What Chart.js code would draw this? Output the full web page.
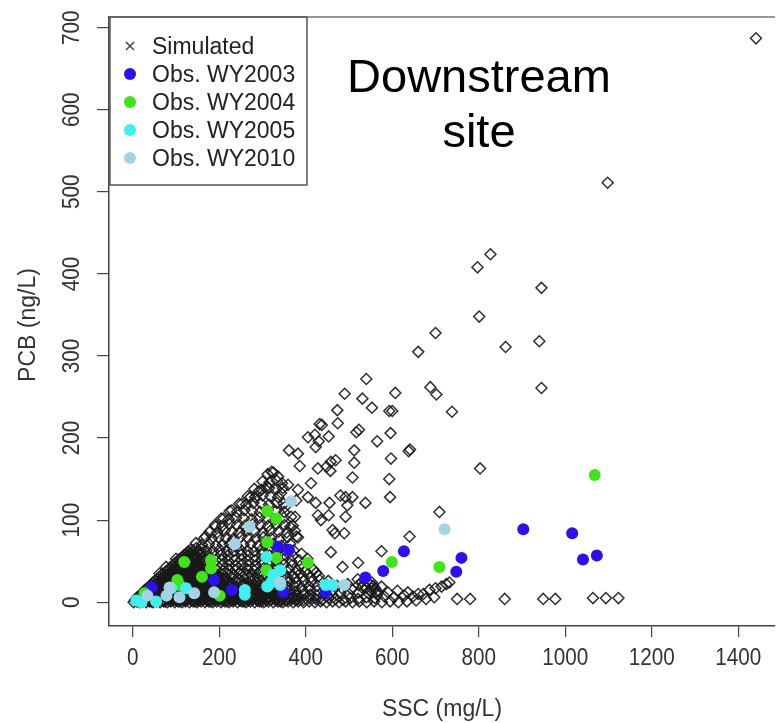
<!DOCTYPE html>
<html>
<head>
<meta charset="utf-8">
<script src="https://cdn.jsdelivr.net/npm/chart.js@4.4.1/dist/chart.umd.min.js"></script>
<style>
  html, body { margin: 0; padding: 0; background: #fff; }
  canvas { display: block; background: #fff; }
</style>
</head>
<body>
<canvas id="chart" width="782" height="723"></canvas>
<script>
// axis ticks
const X_TICKS = [0, 200, 400, 600, 800, 1000, 1200, 1400];
const Y_TICKS = [0, 100, 200, 300, 400, 500, 600, 700];

// simulated [SSC, PCB] - dense low-concentration core
const SIM_CORE = [
  [2,0],[9,1],[16,0],[24,1],[31,0],[39,1],[47,0],[55,1],[63,0],[71,1],[80,0],[88,1],[97,0],[105,1],[114,0],
  [122,1],[131,0],[140,1],[149,0],[158,1],[167,0],[176,1],[185,0],[194,1],[204,0],[213,1],[223,0],[232,1],[242,0],[252,1],
  [6,3],[14,4],[22,3],[30,5],[38,4],[46,3],[54,5],[62,4],[71,3],[79,5],[88,4],[96,3],[105,5],[113,4],[122,3],
  [131,5],[140,4],[149,3],[158,5],[167,4],[176,3],[186,5],[195,4],[205,3],[214,5],[224,4],[234,3],[244,5],[254,4],
  [14,7],[23,8],[32,7],[41,9],[50,8],[59,7],[68,9],[77,8],[87,7],[96,9],[106,8],[115,7],[125,9],[135,8],[144,7],
  [154,9],[164,8],[174,7],[184,9],[194,8],[204,7],[215,9],[225,8],[236,7],[246,9],
  [24,12],[33,13],[43,12],[52,14],[62,12],[72,13],[82,12],[92,14],[102,13],[112,12],[122,14],[132,13],[142,12],
  [152,14],[162,13],[173,12],[183,14],[194,13],[204,12],[215,14],[226,13],[237,12],[248,14],
  [33,17],[43,16],[53,18],[63,17],[74,16],[84,18],[94,17],[105,16],[115,18],[126,17],[136,16],[147,18],[157,17],
  [168,16],[179,18],[190,17],[201,16],[212,18],[223,17],[235,16],
  [42,21],[52,22],[63,21],[74,22],[85,21],[96,22],[107,21],[118,22],[129,21],[140,22],[151,21],[162,22],[174,21],
  [185,22],[197,21],[209,22],[221,21],
  [51,26],[62,25],[73,27],[84,26],[96,25],[107,27],[118,26],[130,25],[141,27],[153,26],[165,25],[177,27],[189,26],
  [201,25],[213,27],
  [61,30],[72,31],[84,30],[95,31],[107,30],[119,31],[131,30],[143,31],[155,30],[167,31],[180,30],[192,31],[204,30],
  [71,35],[82,34],[94,36],[106,35],[118,34],[130,36],[142,35],[155,34],[167,36],[180,35],[193,34],
  [81,39],[93,40],[105,41],[117,39],[129,40],[142,41],[154,39],[167,40],[180,41],
  [91,44],[103,45],[116,46],[128,44],[141,45],[153,46],[166,44],
  [101,49],[114,50],[127,51],[139,49],[152,50],[164,51],
  [112,54],[125,55],[137,56],[150,54],[162,55],
  [123,59],[136,60],[148,61],[160,60],
  [134,64],[147,66],[158,65],
  [62,35],[77,43],[100,53],[127,61],[146,72],[169,80],[191,92],[210,102],[229,112],[252,120],[272,128],[291,135],
  [310,141],[321,159],[336,153]
];

// simulated - second layer of the core, sitting between the first
const SIM_CORE_B = [
  [5,2],[13,1],[20,2],[28,3],[35,2],[43,1],[51,2],[59,3],[67,2],[75,1],[84,2],[92,3],[101,2],[109,1],[118,2],
  [126,3],[135,2],[144,1],[153,2],[162,3],[171,2],[180,1],[189,2],[199,3],[208,2],[218,1],[227,2],[237,3],[247,2],
  [257,1],[267,2],[277,3],[288,2],[298,1],[309,2],[320,3],[331,2],[342,1],[353,2],[365,3],[377,2],
  [10,6],[18,5],[26,6],[34,7],[42,6],[50,5],[58,6],[66,7],[75,6],[83,5],[92,6],[100,7],[109,6],[117,5],[126,6],
  [135,7],[144,6],[153,5],[162,6],[171,7],[181,6],[190,5],[200,6],[209,7],[219,6],[229,5],[239,6],[249,7],[259,6],
  [269,5],[280,6],[291,7],[302,6],[313,5],[325,6],[337,7],[349,6],[361,5],[374,6],
  [19,10],[28,11],[37,10],[46,11],[55,10],[64,11],[73,10],[82,11],[92,10],[101,11],[111,10],[120,11],[130,10],
  [140,11],[149,10],[159,11],[169,10],[179,11],[189,10],[199,11],[210,10],[220,11],[231,10],[241,11],[252,10],
  [263,11],[275,10],[287,11],[299,10],[311,11],[324,10],[337,11],[350,10],[364,11],
  [28,15],[38,14],[48,15],[58,16],[68,15],[79,14],[89,15],[99,16],[110,15],[120,14],[131,15],[141,16],[152,15],
  [163,14],[174,15],[185,16],[196,15],[207,14],[218,15],[230,16],[242,15],[254,14],[266,15],[279,16],[292,15],
  [305,14],[319,15],[333,16],
  [38,19],[48,20],[58,19],[69,20],[79,19],[90,20],[101,19],[112,20],[123,19],[134,20],[145,19],[157,20],[168,19],
  [180,20],[191,19],[203,20],[215,19],[227,20],[240,19],[253,20],[266,19],[280,20],[294,19],
  [47,24],[57,23],[68,24],[79,23],[90,24],[101,23],[112,24],[124,23],[135,24],[147,23],[159,24],[171,23],[183,24],
  [195,23],[207,24],[219,23],
  [56,28],[67,29],[78,28],[90,29],[101,28],[113,29],[125,28],[137,29],[149,28],[161,29],[173,28],[186,29],[198,28],[210,29],
  [66,33],[77,32],[89,33],[100,32],[112,33],[124,32],[136,33],[148,32],[161,33],[173,32],[186,33],[198,32],
  [76,37],[88,38],[100,37],[112,38],[124,37],[136,38],[148,37],[161,38],[173,37],[186,38],
  [86,42],[98,43],[110,42],[122,43],[135,42],[148,43],[160,42],[173,43],
  [96,47],[108,48],[121,47],[133,48],[146,47],[158,48],[170,47],
  [107,52],[120,53],[132,52],[145,53],[157,52],
  [118,57],[130,58],[143,57],[155,58],
  [129,62],[141,63],[153,62]
];

// simulated - low band running out along the SSC axis
const SIM_BAND = [
  [262,0],[272,1],[282,0],[293,1],[303,0],[314,1],[325,0],[336,1],[347,0],[359,1],[371,0],[383,1],[395,0],[408,1],
  [421,0],[434,1],[448,0],[462,1],[477,0],[492,1],[508,0],[524,1],[541,0],[558,1],[576,0],[595,1],[614,0],[634,1],[655,2],
  [264,4],[275,5],[286,3],[297,5],[309,4],[320,3],[332,5],[344,4],[356,3],[369,5],[382,4],[395,3],[409,5],[423,4],
  [438,3],[453,5],[469,4],[486,3],[503,5],[521,4],[540,6],[560,5],[582,7],[604,6],[628,8],[648,7],
  [258,9],[269,8],[281,10],[292,9],[304,8],[316,10],[328,9],[341,8],[354,10],[367,9],[381,8],[395,10],[410,9],
  [426,8],[443,10],[461,9],[480,11],[500,10],[522,12],[545,11],[566,13],[590,12],[612,14],[636,12],[660,10],
  [260,13],[272,14],[284,15],[296,13],[309,14],[322,15],[335,13],[349,14],[363,15],[378,13],[393,14],[409,15],
  [426,14],[444,16],[463,15],[484,17],[506,16],[530,18],[552,17],[575,19],
  [258,18],[271,19],[284,20],[298,18],[312,19],[326,20],[341,18],[357,19],[373,20],[390,18],[408,19],[427,20],
  [449,21],[472,20],[497,22],[522,21],[548,22],[560,17],
  [548,14],[556,20],[562,12],[553,24],[530,25],[540,18],[565,9],[520,28],
  [672,10],[686,15],[700,17],[714,19],[725,22],[732,24],[678,4],[697,6],
  [750,4],[780,4],[860,4],[949,4],[977,4],[1064,5],[1094,5],[1123,5]
];

// simulated - textured middle of the cloud
const SIM_CLOUD = [
  [226,24],[238,25],[250,24],[262,23],[275,25],[288,24],[302,23],[316,25],[331,24],[346,23],[362,25],[378,24],[395,26],[413,25],[432,27],[452,26],
  [216,29],[229,30],[242,29],[255,31],[268,30],[282,29],[296,31],[311,30],[326,29],[342,31],[358,30],[375,29],[393,31],[412,30],[430,32],
  [206,34],[219,35],[232,33],[246,35],[260,34],[274,33],[289,35],[304,34],[320,33],[336,35],[352,34],[369,33],[387,35],[405,34],[424,36],
  [194,39],[208,38],[222,40],[236,39],[250,38],[265,40],[280,39],[295,38],[311,40],[327,39],[344,38],[361,40],[379,39],[398,38],[417,40],
  [180,45],[194,44],[208,46],[223,45],[238,44],[253,46],[268,45],[284,44],[300,46],[316,45],[333,44],[350,46],[368,45],[387,44],[406,46],
  [178,50],[192,51],[206,52],[221,50],[236,51],[251,52],[266,50],[282,51],[298,52],[314,50],[331,51],[348,52],[366,50],[385,51],[404,53],
  [175,57],[190,56],[205,58],[220,57],[235,56],[251,58],[267,57],[283,56],[299,58],[316,57],[333,56],[351,58],[370,57],[390,59],
  [170,63],[186,62],[201,64],[217,63],[233,62],[249,64],[265,63],[281,62],[298,64],[315,63],[333,62],[352,64],[372,63],
  [160,70],[176,71],[192,69],[208,70],[224,71],[240,69],[256,70],[273,71],[290,69],[307,70],[325,71],[344,69],[364,71],
  [165,78],[182,77],[198,79],[215,78],[232,77],[249,79],[266,78],[284,77],[302,79],[320,78],[339,77],[358,79],[378,80],
  [178,86],[195,85],[212,87],[229,86],[246,85],[264,87],[282,86],[300,85],[318,87],[337,86],[356,85],[375,87],
  [190,94],[207,93],[224,95],[241,94],[259,93],[277,95],[295,94],[313,93],[332,95],[351,94],[370,93],
  [205,102],[222,101],[239,103],[257,102],[275,101],[293,103],[311,102],[330,101],[349,103],[366,104],
  [224,111],[241,110],[258,112],[276,111],[294,110],[312,112],[331,111],[350,110],
  [246,120],[262,119],[279,121],[297,120],[315,119],[333,121],[349,120],
  [266,129],[283,128],[300,130],[318,129],[336,128],
  [281,138],[298,137],[315,139],[332,138],[347,139],
  [300,147],[316,146],[333,148],[345,145],
  [312,156],[325,158]
];

// simulated - scattered high values
const SIM_SPREAD = [
  [1441,687],[1098,511],[827,424],[797,408],[945,383],[801,348],[700,328],[862,311],[940,318],[945,261],
  [660,305],[540,272],[490,254],[531,248],[553,237],[607,255],[593,233],[600,233],[688,262],[702,253],
  [738,232],[473,234],[474,218],[432,217],[437,216],[453,202],[523,210],[517,207],[565,196],[596,206],
  [638,184],[641,186],[597,175],[512,185],[512,170],[508,152],[593,150],[595,128],[538,121],[458,171],
  [469,173],[448,165],[457,160],[428,163],[412,145],[405,201],[421,204],[430,196],[423,189],[361,185],
  [382,181],[386,166],[382,137],[378,124],[405,128],[423,121],[428,106],[435,100],[453,106],[480,130],
  [492,128],[508,128],[496,118],[492,104],[455,121],[462,88],[489,84],[467,84],[458,61],[485,43],
  [521,48],[575,62],[640,80],[709,110],[803,163],[359,143],[343,133],[352,116],[375,104],[364,92],[382,79]
];

// observed [SSC, PCB] by water year
const OBS_2003 = [
  [44,18],[188,27],[229,15],[336,68],[361,64],[348,12],[446,12],[538,30],[579,38],[627,62],
  [748,37],[760,54],[903,89],[1016,84],[1041,52],[1073,57]
];
const OBS_2004 = [
  [27,11],[108,21],[103,27],[119,49],[160,31],[181,51],[181,41],[201,8],[309,39],[311,73],
  [311,111],[332,102],[332,54],[405,48],[599,49],[709,43],[1068,155]
];
const OBS_2005 = [
  [8,2],[20,0],[54,1],[89,17],[123,17],[259,15],[259,9],[309,55],[325,33],[341,39],
  [320,24],[311,19],[341,21],[446,21],[462,21]
];
const OBS_2010 = [
  [34,8],[78,8],[108,6],[142,11],[85,18],[188,12],[236,71],[270,92],[366,123],[341,24],
  [489,21],[721,89]
];

const LEGEND = [
  { text: "Simulated", color: "#444", cross: true },
  { text: "Obs. WY2003", color: "#2a10f2" },
  { text: "Obs. WY2004", color: "#3fe516" },
  { text: "Obs. WY2005", color: "#3ef0f0" },
  { text: "Obs. WY2010", color: "#a6d3e3" },
];

const FONT = '"Liberation Sans", Arial, Helvetica, sans-serif';
const pts = (arr) => arr.map(([x, y]) => ({ x, y }));

const obsSet = (label, arr, color, order) => ({
  label,
  data: pts(arr),
  pointStyle: "circle",
  pointRadius: 6,
  backgroundColor: color,
  borderWidth: 0,
  order,
});

// axis labels, box top, legend and site note
const overlay = {
  id: "overlay",
  afterDraw(chart) {
    const { ctx, chartArea: a } = chart;
    const x = chart.scales.x;
    const y = chart.scales.y;
    ctx.save();

    ctx.strokeStyle = "#777";
    ctx.lineWidth = 1.6;
    ctx.beginPath();
    ctx.moveTo(a.left, a.top);
    ctx.lineTo(a.right, a.top);
    ctx.stroke();

    ctx.fillStyle = "#333";
    ctx.font = "23px " + FONT;
    ctx.textAlign = "center";
    ctx.textBaseline = "alphabetic";
    X_TICKS.forEach((v) => {
      ctx.save();
      ctx.translate(x.getPixelForValue(v), 665);
      ctx.scale(0.9, 1);
      ctx.fillText(String(v), 0, 0);
      ctx.restore();
    });
    Y_TICKS.forEach((v) => {
      ctx.save();
      ctx.translate(79, y.getPixelForValue(v));
      ctx.rotate(-Math.PI / 2);
      ctx.scale(0.9, 1);
      ctx.fillText(String(v), 0, 0);
      ctx.restore();
    });

    // axis titles
    ctx.fillText("SSC (mg/L)", (a.left + a.right) / 2, 716);
    ctx.save();
    ctx.translate(35, 325);
    ctx.rotate(-Math.PI / 2);
    ctx.fillText("PCB (ng/L)", 0, 0);
    ctx.restore();

    // legend
    ctx.strokeStyle = "#555";
    ctx.lineWidth = 1.5;
    ctx.strokeRect(110, 17, 197, 168);
    ctx.textAlign = "left";
    ctx.fillStyle = "#222";
    LEGEND.forEach((item, i) => {
      const cy = 46 + i * 28;
      if (item.cross) {
        ctx.strokeStyle = item.color;
        ctx.lineWidth = 1.5;
        ctx.beginPath();
        ctx.moveTo(126, cy - 4);
        ctx.lineTo(134, cy + 4);
        ctx.moveTo(134, cy - 4);
        ctx.lineTo(126, cy + 4);
        ctx.stroke();
      } else {
        ctx.fillStyle = item.color;
        ctx.beginPath();
        ctx.arc(130, cy, 6, 0, Math.PI * 2);
        ctx.fill();
      }
      ctx.fillStyle = "#222";
      ctx.fillText(item.text, 152, cy + 8);
    });

    // site note
    ctx.fillStyle = "#000";
    ctx.font = "47px " + FONT;
    ctx.textAlign = "center";
    ctx.fillText("Downstream", 479, 92);
    ctx.fillText("site", 479, 147);

    ctx.restore();
  },
};

new Chart(document.getElementById("chart"), {
  type: "scatter",
  data: {
    datasets: [
      {
        label: "Simulated",
        data: pts([...SIM_SPREAD, ...SIM_CLOUD, ...SIM_BAND, ...SIM_CORE, ...SIM_CORE_B]),
        pointStyle: "rectRot",
        pointRadius: 5.5,
        backgroundColor: "rgba(0,0,0,0)",
        borderColor: "rgba(25,25,25,0.9)",
        borderWidth: 1.5,
        order: 10,
      },
      obsSet("Obs. WY2003", OBS_2003, "#2a10f2", 4),
      obsSet("Obs. WY2004", OBS_2004, "#3fe516", 3),
      obsSet("Obs. WY2005", OBS_2005, "#3ef0f0", 2),
      obsSet("Obs. WY2010", OBS_2010, "#a6d3e3", 1),
    ],
  },
  options: {
    responsive: false,
    animation: false,
    devicePixelRatio: 1,
    events: [],
    layout: { padding: { top: 17, left: 0, right: 0, bottom: 0 } },
    plugins: { legend: { display: false }, tooltip: { enabled: false } },
    scales: {
      x: {
        type: "linear",
        min: -55,
        max: 1485,
        afterFit: (s) => { s.height = 97; },
        afterBuildTicks: (s) => { s.ticks = X_TICKS.map((v) => ({ value: v })); },
        ticks: { display: false },
        grid: { drawOnChartArea: false, drawTicks: true, tickLength: 11, color: "#444", lineWidth: 1.2 },
        border: { display: true, color: "#444", width: 1.5 },
      },
      y: {
        type: "linear",
        min: -29,
        max: 713,
        afterFit: (s) => { s.width = 109; },
        afterBuildTicks: (s) => { s.ticks = Y_TICKS.map((v) => ({ value: v })); },
        ticks: { display: false },
        grid: { drawOnChartArea: false, drawTicks: true, tickLength: 12, color: "#444", lineWidth: 1.2 },
        border: { display: true, color: "#444", width: 1.5 },
      },
    },
  },
  plugins: [overlay],
});
</script>
</body>
</html>
